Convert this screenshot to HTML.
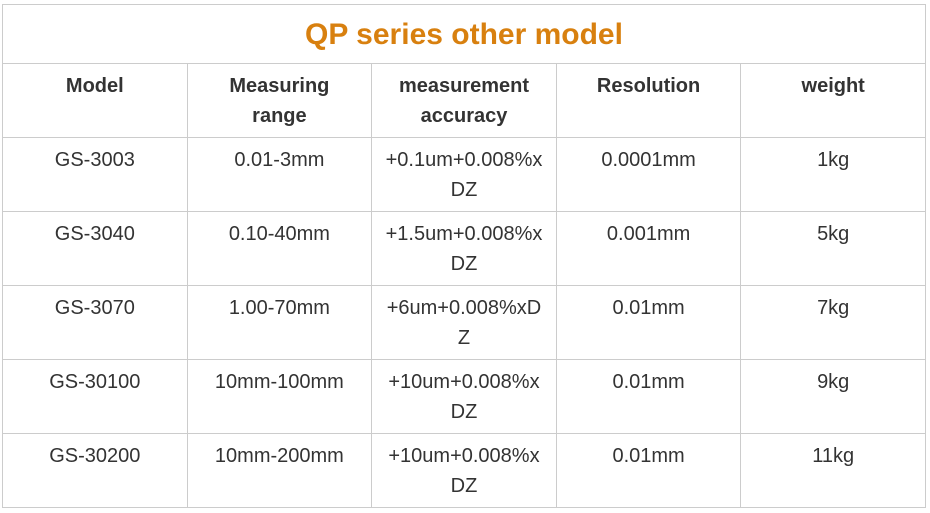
<!DOCTYPE html>
<html><head><style>
body{margin:0;background:#fff;}
table{position:absolute;left:2px;top:4px;border-collapse:collapse;width:924px;font-family:"Liberation Sans",Arial,sans-serif;font-size:20px;color:#333;table-layout:fixed;}
td,th{border:1px solid #ccc;text-align:center;vertical-align:top;line-height:30px;padding:7px 4px 0 4px;}
th{font-weight:bold;height:66px;}
td{height:66px;}
.t{height:58px;padding:2px 0 0 0;height:56px;vertical-align:middle;color:#d8800f;font-size:30px;font-weight:bold;}
</style></head><body>
<table>
<tr><td class="t" colspan="5">QP series other model</td></tr>
<tr><th>Model</th><th>Measuring<br>range</th><th>measurement<br>accuracy</th><th>Resolution</th><th>weight</th></tr>
<tr><td>GS-3003</td><td>0.01-3mm</td><td>+0.1um+0.008%x<br>DZ</td><td>0.0001mm</td><td>1kg</td></tr>
<tr><td>GS-3040</td><td>0.10-40mm</td><td>+1.5um+0.008%x<br>DZ</td><td>0.001mm</td><td>5kg</td></tr>
<tr><td>GS-3070</td><td>1.00-70mm</td><td>+6um+0.008%xD<br>Z</td><td>0.01mm</td><td>7kg</td></tr>
<tr><td>GS-30100</td><td>10mm-100mm</td><td>+10um+0.008%x<br>DZ</td><td>0.01mm</td><td>9kg</td></tr>
<tr><td>GS-30200</td><td>10mm-200mm</td><td>+10um+0.008%x<br>DZ</td><td>0.01mm</td><td>11kg</td></tr>
</table>
</body></html>
